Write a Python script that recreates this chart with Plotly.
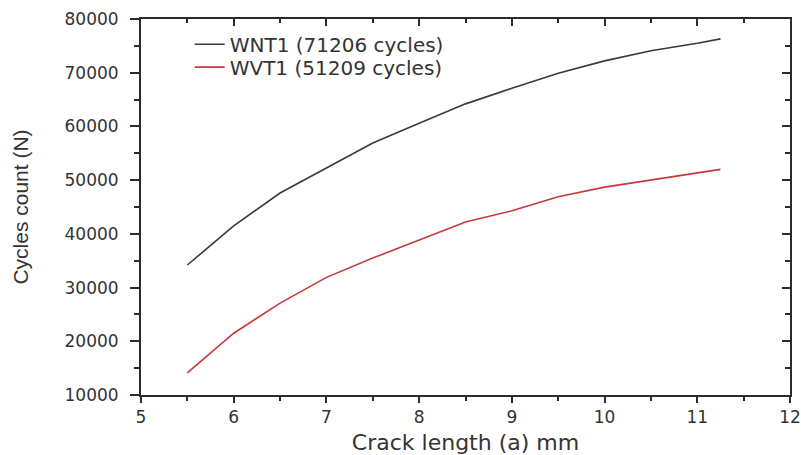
import plotly.graph_objects as go

# Crack length (mm) at each recorded step
crack_length = [5.5, 6.0, 6.5, 7.0, 7.5, 8.0, 8.5, 9.0, 9.5, 10.0, 10.5, 11.0, 11.25]

# Fatigue cycles counted for each specimen
wnt1_cycles = [34200, 41500, 47600, 52200, 56900, 60600, 64200, 67100,
               69900, 72200, 74100, 75500, 76300]
wvt1_cycles = [14100, 21500, 27100, 31900, 35500, 38900, 42200, 44300,
               46900, 48700, 50000, 51300, 52000]

series_names = ["WNT1 (71206 cycles)", "WVT1 (51209 cycles)"]
series_colors = ["#3a3a3a", "#c8383c"]
legend_ids = ["legend", "legend2"]

x_range = [5, 12]
y_range = [10000, 80000]
x_ticks = [5, 6, 7, 8, 9, 10, 11, 12]
y_ticks = [10000, 20000, 30000, 40000, 50000, 60000, 70000, 80000]
y_tick_labels = [str(v) for v in y_ticks]

AXIS = "#2b2b2b"
TEXT = "#333333"
TICK_FONT = dict(family="DejaVu Sans", size=17, color=TEXT)
LEGEND_FONT = dict(family="DejaVu Sans", size=20, color=TEXT)

fig = go.Figure()
for ys, name, color, lg in zip([wnt1_cycles, wvt1_cycles], series_names,
                               series_colors, legend_ids):
    fig.add_trace(go.Scatter(x=crack_length, y=ys, mode="lines", name=name,
                             legend=lg, line=dict(color=color, width=1.6)))

# transparent copies that carry the inward ticks on the top and right edges
fig.add_trace(go.Scatter(x=crack_length, y=wnt1_cycles, xaxis="x2", yaxis="y",
                         mode="lines", line=dict(color="rgba(0,0,0,0)", width=0),
                         showlegend=False, hoverinfo="skip"))
fig.add_trace(go.Scatter(x=crack_length, y=wnt1_cycles, xaxis="x", yaxis="y2",
                         mode="lines", line=dict(color="rgba(0,0,0,0)", width=0),
                         showlegend=False, hoverinfo="skip"))

legend_common = dict(xanchor="left", yanchor="middle", bgcolor="rgba(0,0,0,0)",
                     borderwidth=0, font=LEGEND_FONT)

fig.update_layout(
    width=801, height=455,
    margin=dict(l=141, r=11, t=19, b=60, autoexpand=False),
    paper_bgcolor="white", plot_bgcolor="rgba(0,0,0,0)",
    font=dict(family="DejaVu Sans", color=TEXT),
    showlegend=True,
    legend=dict(x=0.075, y=0.933, **legend_common),
    legend2=dict(x=0.075, y=0.872, **legend_common),
    xaxis=dict(range=x_range, domain=[0, 1], tickvals=x_ticks, ticks="outside",
               ticklen=6, tickwidth=2, tickcolor=AXIS, showline=True,
               linewidth=2, linecolor=AXIS, mirror=True, showgrid=False,
               zeroline=False, tickfont=TICK_FONT, automargin=False,
               minor=dict(dtick=0.5, ticks="outside", ticklen=4, tickwidth=2,
                          tickcolor=AXIS, showgrid=False),
               title=dict(text="Crack length (a) mm", standoff=9,
                          font=dict(family="DejaVu Sans", size=22, color=TEXT))),
    yaxis=dict(range=y_range, tickvals=y_ticks, ticktext=y_tick_labels,
               ticks="outside", ticklen=9,
               tickwidth=2, tickcolor=AXIS, showline=True, linewidth=2,
               linecolor=AXIS, mirror=True, showgrid=False, zeroline=False,
               tickfont=TICK_FONT, ticklabelstandoff=8, automargin=False,
               minor=dict(dtick=5000, ticks="outside", ticklen=5, tickwidth=2,
                          tickcolor=AXIS, showgrid=False),
               title=dict(text="Cycles count (N)", standoff=30,
                          font=dict(family="Liberation Sans", size=21, color=TEXT))),
    xaxis2=dict(range=x_range, domain=[0, 1], tickvals=x_ticks, side="top",
                anchor="y", ticks="inside", ticklen=7, tickwidth=2,
                tickcolor=AXIS, showticklabels=False, showgrid=False,
                zeroline=False, showline=False, automargin=False,
                minor=dict(dtick=0.5, ticks="inside", ticklen=4, tickwidth=2,
                           tickcolor=AXIS, showgrid=False)),
    yaxis2=dict(range=y_range, tickvals=y_ticks, overlaying="y", side="right",
                anchor="x", ticks="inside", ticklen=8, tickwidth=2,
                tickcolor=AXIS, showticklabels=False, showgrid=False,
                zeroline=False, showline=False, automargin=False,
                minor=dict(dtick=5000, ticks="inside", ticklen=5, tickwidth=2,
                           tickcolor=AXIS, showgrid=False)),
)

fig.write_html("out.html")
